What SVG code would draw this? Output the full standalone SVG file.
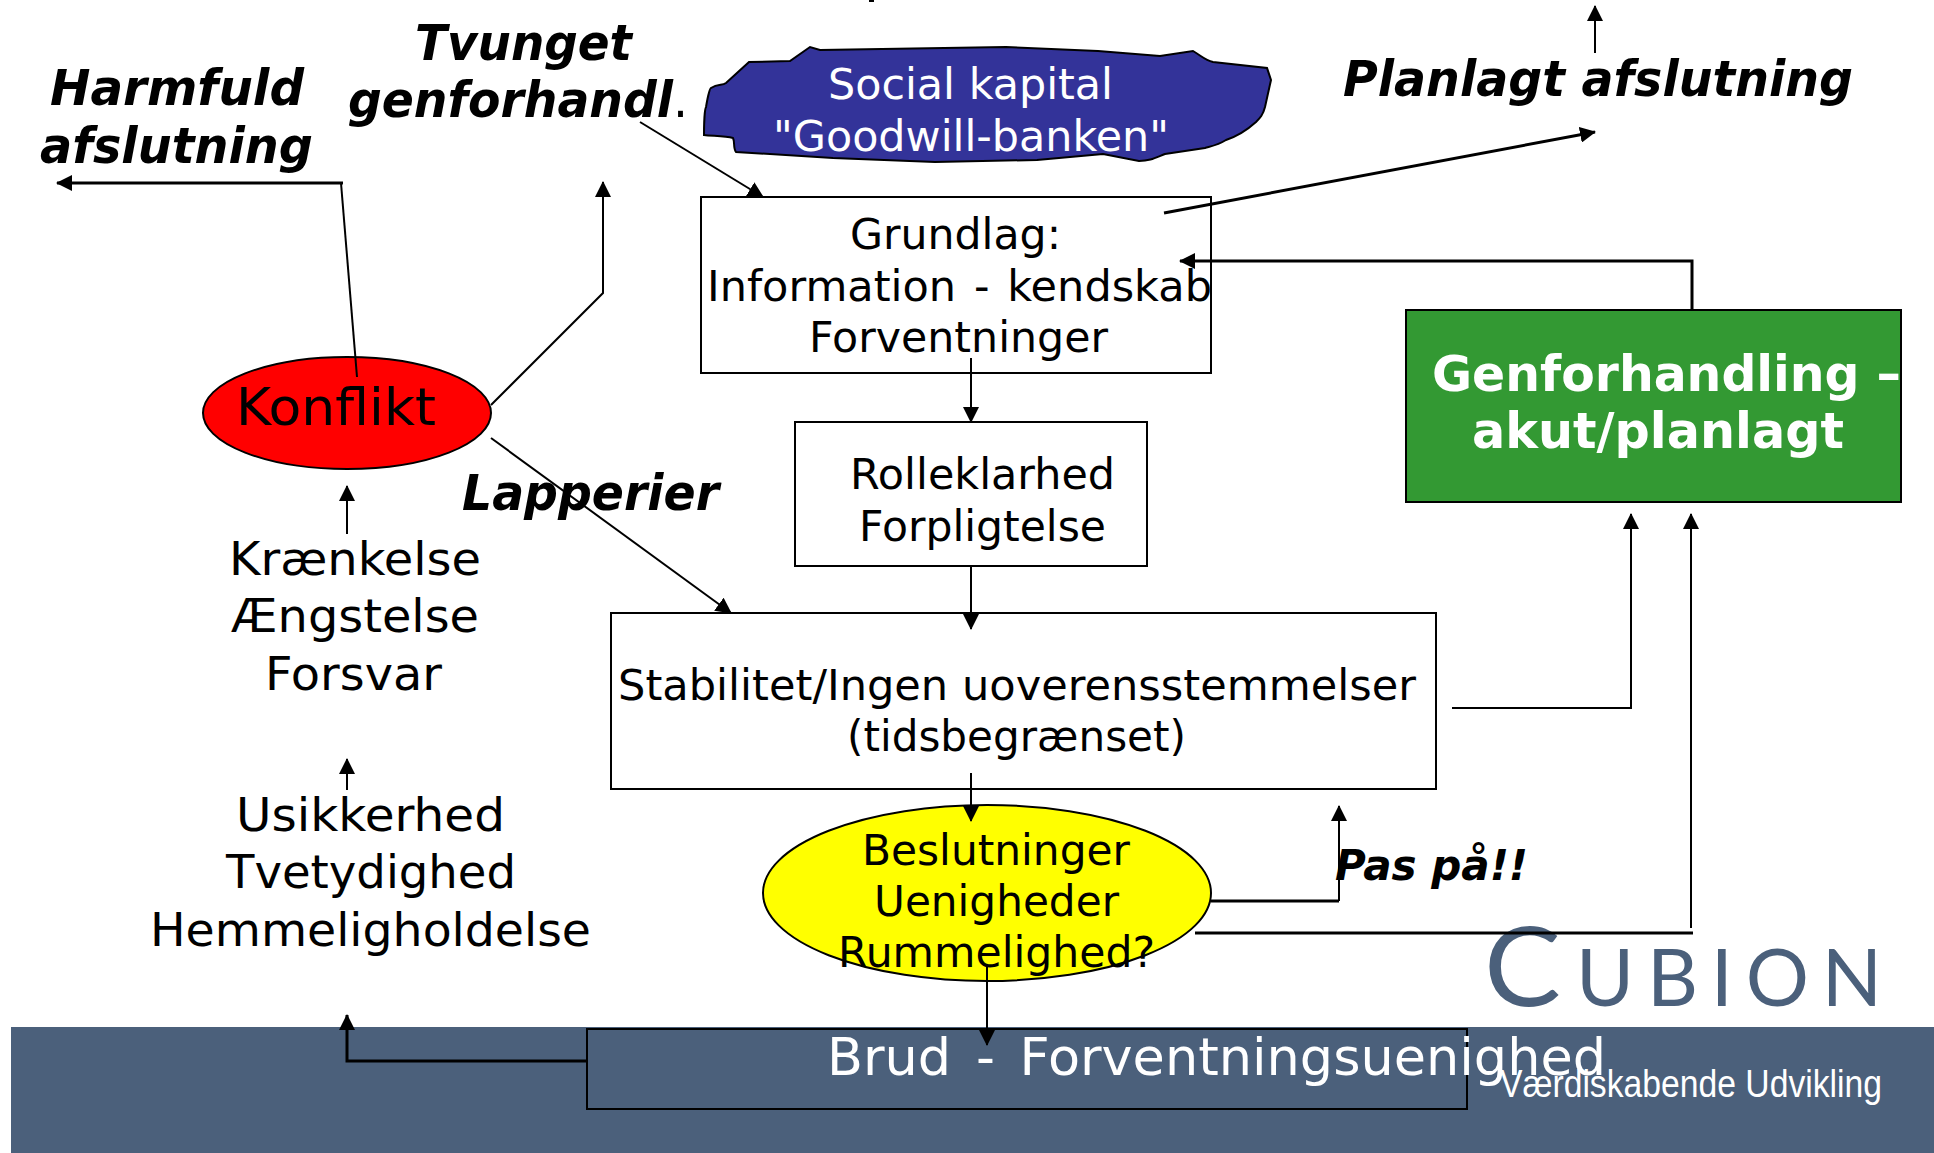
<svg xmlns="http://www.w3.org/2000/svg" width="1934" height="1153" viewBox="0 0 1934 1153">
<style>
text{font-family:"DejaVu Sans",Verdana,sans-serif;fill:#000}
.s41{font-size:42px}
.s46{font-size:47px}
.bi{font-size:50px;font-weight:bold;font-style:italic}
.w{fill:#fff}
.box{fill:#fff;stroke:#000;stroke-width:2}
.c{fill:none;stroke:#000;stroke-width:2}
.t{fill:none;stroke:#000;stroke-width:3}
.a{marker-end:url(#h)}
</style>
<defs>
<marker id="h" markerUnits="userSpaceOnUse" markerWidth="16" markerHeight="16" viewBox="0 0 16 16" refX="15" refY="8" orient="auto"><path d="M0 0L16 8L0 16Z" fill="#000"/></marker>
</defs>
<rect width="1934" height="1153" fill="#fff"/>
<rect x="869" y="0" width="5" height="2" fill="#000"/>
<g id="footer">
<rect x="11" y="1027" width="1923" height="126" fill="#4b607b"/>
<text x="1484" y="1006" style="font-family:Lato,sans-serif;font-size:110px;fill:#4b607b" textLength="77" lengthAdjust="spacingAndGlyphs">C</text>
<text x="1576" y="1006" style="font-family:Lato,sans-serif;font-size:79px;fill:#4b607b" textLength="306" lengthAdjust="spacing">UBION</text>
</g>
<g id="cloud">
<path d="M704 135C704 120 705 107 706 107C708 95 710 88 711 88C718 83 722 86 726 83L749 62L790 61L810 47L820 50L1006 47L1098 51L1160 56L1193 51C1203 57 1205 60 1213 62L1267 68L1271 80L1265 107C1263 115 1260 118 1256 122C1246 131 1238 136 1226 140C1218 145 1212 146 1205 148L1165 154C1155 158 1150 161 1139 161L1103 154L1037 160L935 162L833 158L736 152C733 148 735 142 733 138C725 136 712 136 704 135Z" fill="#333399" stroke="#000" stroke-width="2"/>
<text class="s41 w" x="828" y="99" textLength="285" lengthAdjust="spacingAndGlyphs">Social kapital</text>
<text class="s41 w" x="773" y="151" textLength="396" lengthAdjust="spacingAndGlyphs"><tspan font-style="italic">"</tspan>Goodwill-banken<tspan font-style="italic">"</tspan></text>
</g>
<g id="grundlag">
<rect class="box" x="701" y="197" width="510" height="176"/>
<text class="s41" x="850" y="249" textLength="211" lengthAdjust="spacingAndGlyphs">Grundlag:</text>
<text class="s41" x="707" y="301" textLength="505" lengthAdjust="spacingAndGlyphs" word-spacing="4">Information - kendskab</text>
<text class="s41" x="809" y="352" textLength="299" lengthAdjust="spacingAndGlyphs">Forventninger</text>
</g>
<g id="rolle">
<rect class="box" x="795" y="422" width="352" height="144"/>
<text class="s41" x="850" y="489" textLength="265" lengthAdjust="spacingAndGlyphs">Rolleklarhed</text>
<text class="s41" x="859" y="541" textLength="247" lengthAdjust="spacingAndGlyphs">Forpligtelse</text>
</g>
<g id="stabilitet">
<rect class="box" x="611" y="613" width="825" height="176"/>
<text class="s41" x="618" y="700" textLength="798" lengthAdjust="spacingAndGlyphs">Stabilitet/Ingen uoverensstemmelser</text>
<text class="s41" x="847" y="751" textLength="339" lengthAdjust="spacingAndGlyphs">(tidsbegrænset)</text>
</g>
<g id="genforhandling">
<rect x="1406" y="310" width="495" height="192" fill="#339933" stroke="#000" stroke-width="2"/>
<text class="w" x="1432" y="391" style="font-size:49px;font-weight:bold" textLength="469" lengthAdjust="spacingAndGlyphs">Genforhandling –</text>
<text class="w" x="1472" y="448" style="font-size:49px;font-weight:bold" textLength="372" lengthAdjust="spacingAndGlyphs">akut/planlagt</text>
</g>
<g id="konflikt">
<ellipse cx="347" cy="413" rx="144" ry="56" fill="#f00" stroke="#000" stroke-width="2"/>
<text x="236" y="425" style="font-size:52px" textLength="200" lengthAdjust="spacingAndGlyphs">Konflikt</text>
</g>
<g id="beslutninger">
<ellipse cx="987" cy="893" rx="224" ry="88" fill="#ff0" stroke="#000" stroke-width="2"/>
<text class="s41" x="862" y="865" textLength="268" lengthAdjust="spacingAndGlyphs">Beslutninger</text>
<text class="s41" x="874" y="916" textLength="245" lengthAdjust="spacingAndGlyphs">Uenigheder</text>
<text class="s41" x="838" y="967" textLength="317" lengthAdjust="spacingAndGlyphs">Rummelighed?</text>
</g>
<g id="brud">
<rect x="587" y="1029" width="880" height="80" fill="none" stroke="#000" stroke-width="2"/>
<text class="w" x="827" y="1075" style="font-size:52px" textLength="779" lengthAdjust="spacingAndGlyphs" word-spacing="8">Brud - Forventningsuenighed</text>
<text x="1500" y="1097" style="font-family:'Liberation Sans',Arial,sans-serif;font-size:38px;fill:#fff" textLength="382" lengthAdjust="spacingAndGlyphs">Værdiskabende Udvikling</text>
</g>
<g id="labels">
<text class="bi" x="50" y="105" textLength="254" lengthAdjust="spacingAndGlyphs">Harmfuld</text>
<text class="bi" x="40" y="163" textLength="273" lengthAdjust="spacingAndGlyphs">afslutning</text>
<text class="bi" x="415" y="60" textLength="217" lengthAdjust="spacingAndGlyphs">Tvunget</text>
<text class="bi" x="348" y="117" textLength="340" lengthAdjust="spacingAndGlyphs">genforhandl<tspan font-weight="normal" font-style="normal">.</tspan></text>
<text class="bi" x="1343" y="96" textLength="510" lengthAdjust="spacingAndGlyphs">Planlagt afslutning</text>
<text class="bi" x="462" y="510" textLength="257" lengthAdjust="spacingAndGlyphs">Lapperier</text>
<text class="bi" x="1335" y="880" style="font-size:43px" textLength="193" lengthAdjust="spacingAndGlyphs">Pas på!!</text>
<text class="s46" x="229" y="575" textLength="252" lengthAdjust="spacingAndGlyphs">Krænkelse</text>
<text class="s46" x="231" y="632" textLength="248" lengthAdjust="spacingAndGlyphs">Ængstelse</text>
<text class="s46" x="265" y="690" textLength="177" lengthAdjust="spacingAndGlyphs">Forsvar</text>
<text class="s46" x="236" y="831" textLength="269" lengthAdjust="spacingAndGlyphs">Usikkerhed</text>
<text class="s46" x="226" y="888" textLength="290" lengthAdjust="spacingAndGlyphs">Tvetydighed</text>
<text class="s46" x="150" y="946" textLength="441" lengthAdjust="spacingAndGlyphs">Hemmeligholdelse</text>
</g>
<g id="connectors">
<path class="t a" d="M343 183H57"/>
<path class="c" d="M341 183L357 377"/>
<path class="c a" d="M491 405L603 293V182"/>
<path class="c a" d="M491 438L731 613"/>
<path class="c a" d="M640 122L763 197"/>
<path class="t a" d="M1164 213L1595 132"/>
<path class="c a" d="M1595 53V6"/>
<path class="t a" d="M1692 310V261H1180"/>
<path class="c a" d="M971 358V422"/>
<path class="c a" d="M971 566V629"/>
<path class="c a" d="M971 773V821"/>
<path class="c a" d="M1452 708H1631V514"/>
<path class="t" d="M1195 933H1693"/>
<path class="c a" d="M1691 928V514"/>
<path class="t" d="M1211 901H1339"/>
<path class="c a" d="M1339 901V806"/>
<path class="c a" d="M987 967V1045"/>
<path class="t a" d="M586 1061H347V1015"/>
<path class="c a" d="M347 790V759"/>
<path class="c a" d="M347 534V486"/>
</g>
</svg>
